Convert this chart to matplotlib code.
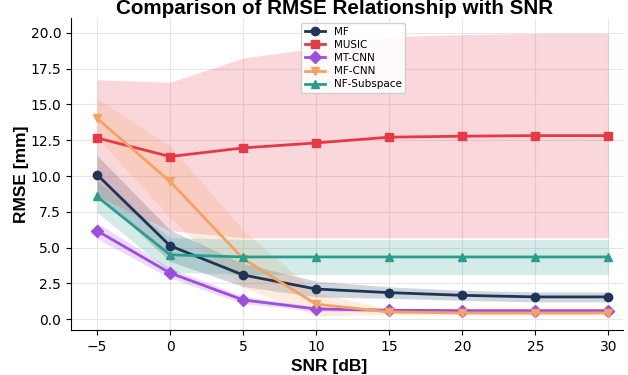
import numpy as np
import matplotlib
matplotlib.use("Agg")
import matplotlib.pyplot as plt

# --- Datos ---
snr = [-5, 0, 5, 10, 15, 20, 25, 30]

mf_mean = [10.1, 5.13, 3.09, 2.11, 1.86, 1.67, 1.56, 1.56]
mf_std = [1.35, 1.1, 0.8, 0.55, 0.4, 0.35, 0.35, 0.35]

music_mean = [12.66, 11.36, 11.96, 12.31, 12.71, 12.78, 12.82, 12.82]
music_std = [4.06, 5.18, 6.27, 6.62, 7.02, 7.09, 7.13, 7.13]

mtcnn_mean = [6.18, 3.23, 1.35, 0.72, 0.63, 0.6, 0.6, 0.6]
mtcnn_std = [0.55, 0.35, 0.25, 0.15, 0.12, 0.12, 0.12, 0.12]

mfcnn_mean = [14.03, 9.62, 4.23, 1.05, 0.51, 0.44, 0.44, 0.44]
mfcnn_std = [1.35, 2.5, 2.0, 0.8, 0.2, 0.15, 0.15, 0.15]

nf_mean = [8.57, 4.5, 4.35, 4.35, 4.35, 4.35, 4.35, 4.35]
nf_std = [1.1, 1.2, 1.22, 1.22, 1.22, 1.22, 1.22, 1.22]

series = [
    ("MF", mf_mean, mf_std, "#1d3557", "o"),
    ("MUSIC", music_mean, music_std, "#e63946", "s"),
    ("MT-CNN", mtcnn_mean, mtcnn_std, "#9d4edd", "D"),
    ("MF-CNN", mfcnn_mean, mfcnn_std, "#f4a261", "v"),
    ("NF-Subspace", nf_mean, nf_std, "#2a9d8f", "^"),
]

# --- Grafico ---
fig, ax = plt.subplots(figsize=(6.28, 3.75), dpi=100)
x = np.array(snr)
for name, m, s, c, mk in series:
    m = np.array(m)
    s = np.array(s)
    ax.fill_between(x, m - s, m + s, color=c, alpha=0.2, linewidth=0)
    ax.plot(x, m, color=c, marker=mk, markersize=6, linewidth=2, label=name)

ax.set_title("Comparison of RMSE Relationship with SNR", fontsize=14.9,
             fontweight="bold", family="Liberation Sans", x=0.477, pad=-3.8)
ax.set_xlabel("SNR [dB]", fontsize=12.5, fontweight="bold", family="Liberation Sans")
ax.set_ylabel("RMSE [mm]", fontsize=12.5, fontweight="bold", family="Liberation Sans",
              labelpad=1)
ax.xaxis.label.set_x(0.468)
ax.set_xticks(snr)
ax.set_yticks(np.arange(0, 20.1, 2.5))
ax.tick_params(labelsize=10)
ax.set_xlim(-6.78, 31.0)
ax.set_ylim(-0.75, 21.03)
ax.grid(True, color="#e6e6e6", linewidth=0.8)
ax.set_axisbelow(True)
ax.spines["top"].set_visible(False)
ax.spines["right"].set_visible(False)
ax.legend(loc="upper center", fontsize=7.5, framealpha=0.9, borderpad=0.35,
          labelspacing=0.3, bbox_to_anchor=(0.511, 1.0))

fig.subplots_adjust(left=0.113, right=0.992, top=0.952, bottom=0.12)
fig.savefig("out.png", dpi=100)
